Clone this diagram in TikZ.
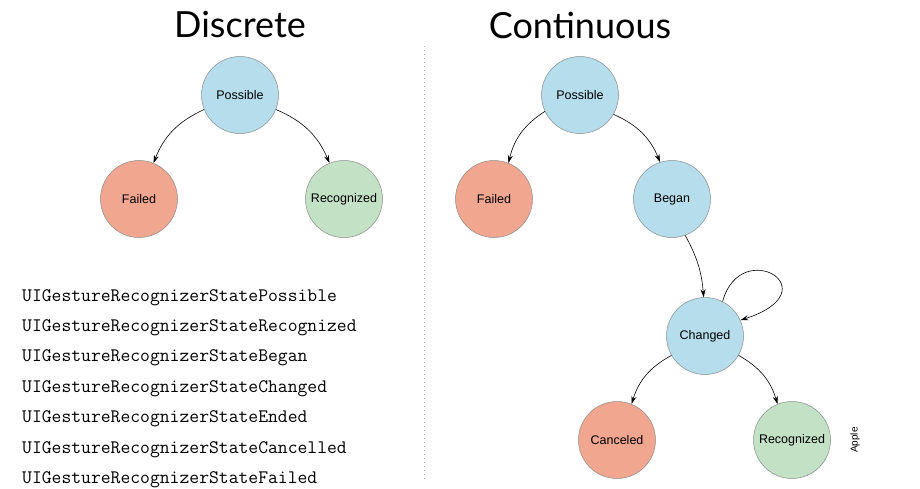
\documentclass[tikz,border=0pt]{standalone}
\usepackage{fontspec}
\setmainfont{Liberation Sans}
\newfontfamily\titlefont{Lato}
\usetikzlibrary{arrows.meta}
\definecolor{stblue}{HTML}{B5DDEC}
\definecolor{stred}{HTML}{F0A68F}
\definecolor{stgreen}{HTML}{C3E1C5}
\definecolor{stedge}{HTML}{8A8A8A}
\tikzset{
  state/.style={circle, draw=stedge, line width=0.5pt, minimum size=77pt, inner sep=0pt, font=\fontsize{12.5}{14}\selectfont},
  blue state/.style={state, fill=stblue},
  red state/.style={state, fill=stred},
  green state/.style={state, fill=stgreen},
  trans/.style={draw=black, line width=0.6pt, -{Stealth[length=8pt,width=5pt]}},
  title/.style={font=\titlefont\fontsize{36}{40}\selectfont},
  codeline/.style={anchor=west, inner sep=0pt, font=\ttfamily\fontsize{19.1}{20}\selectfont},
}
\begin{document}
\begin{tikzpicture}[x=1pt,y=-1pt]
\useasboundingbox (0,0) rectangle (920,488);

% headings
\node[title] (tdisc) at (240,25) {Discrete};
\node[title] (tcont) at (580,25) {Continuous};

% divider between the two machines
\draw[gray!55, line width=1pt, dash pattern=on 1pt off 3pt] (424,46) -- (424,482);

% discrete recognizer
\node[blue state]  (dpos) at (240,95)  {Possible};
\node[red state]   (dfail) at (139,199) {Failed};
\node[green state] (drec) at (344,199) {Recognized};
\draw[trans] (dpos.202) to[bend right=22] (dfail.68);
\draw[trans] (dpos.338) to[bend left=22] (drec.112);

% continuous recognizer
\node[blue state]  (cpos) at (580,95)  {Possible};
\node[red state]   (cfail) at (494,199) {Failed};
\node[blue state]  (cbeg) at (672,199) {Began};
\node[blue state]  (cchg) at (705,336) {Changed};
\node[red state]   (ccan) at (617,440) {Canceled};
\node[green state] (crec) at (792,440) {Recognized};
\draw[trans] (cpos.205) to[bend right=22] (cfail.68);
\draw[trans] (cpos.330) to[bend left=22] (cbeg.108);
\draw[trans] (cbeg.290) to[bend left=12] (cchg.92);
\draw[trans] (cchg.63) .. controls +(18,-66) and +(92,-30) .. (cchg.24);
\draw[trans] (cchg.210) to[bend right=22] (ccan.68);
\draw[trans] (cchg.330) to[bend left=22] (crec.112);

% state constants
\node[codeline] (k1) at (22,298) {UIGestureRecognizerStatePossible};
\node[codeline] (k2) at (22,328) {UIGestureRecognizerStateRecognized};
\node[codeline] (k3) at (22,358) {UIGestureRecognizerStateBegan};
\node[codeline] (k4) at (22,389) {UIGestureRecognizerStateChanged};
\node[codeline] (k5) at (22,419) {UIGestureRecognizerStateEnded};
\node[codeline] (k6) at (22,450) {UIGestureRecognizerStateCancelled};
\node[codeline] (k7) at (22,480) {UIGestureRecognizerStateFailed};

% credit
\node[rotate=90, font=\fontsize{10}{12}\selectfont] (credit) at (855,440) {Apple};
\end{tikzpicture}
\end{document}
